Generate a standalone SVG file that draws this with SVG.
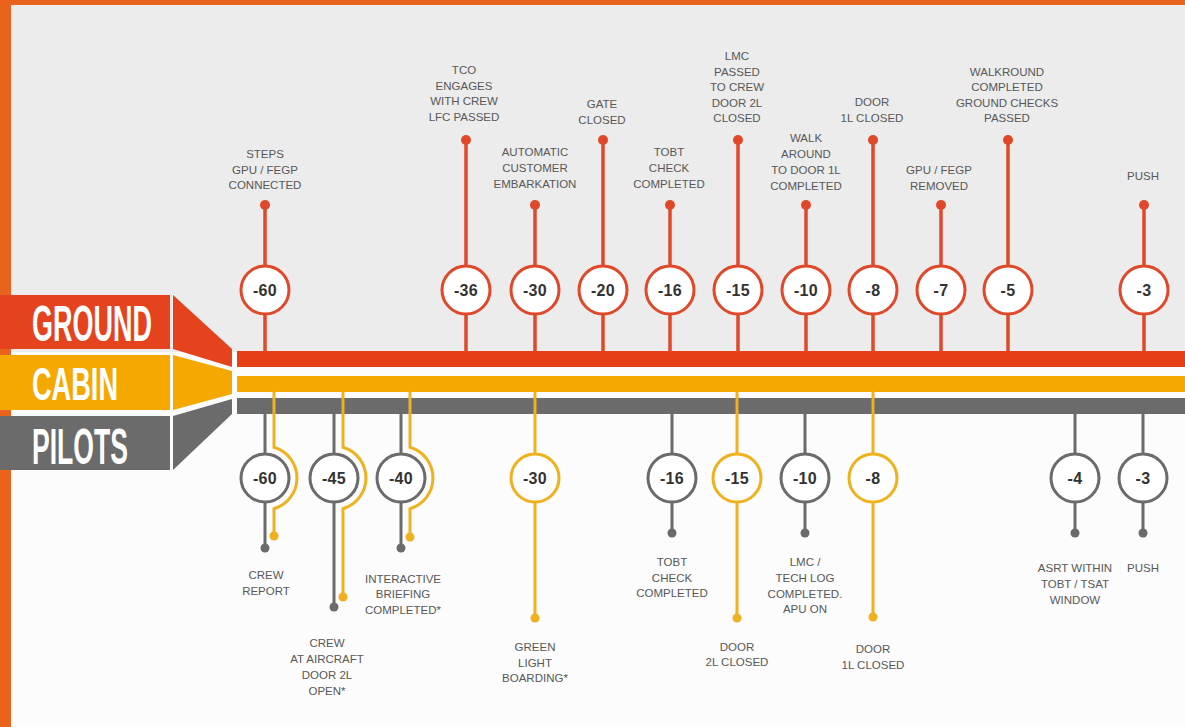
<svg xmlns="http://www.w3.org/2000/svg" width="1185" height="727" viewBox="0 0 1185 727">
<style>
.lbl{font-family:"Liberation Sans",Arial,sans-serif;font-size:11.5px;fill:#585858;text-anchor:middle}
.num{font-family:"Liberation Sans",Arial,sans-serif;font-size:16px;font-weight:bold;fill:#333;text-anchor:middle;letter-spacing:0.3px}
.band{font-family:"Liberation Sans",Arial,sans-serif;font-weight:bold;fill:#fff}
.cr{fill:#fff;stroke:#e0482a;stroke-width:3}
.cg{fill:#fff;stroke:#6b6b6b;stroke-width:3}
.cy{fill:#fff;stroke:#f0b11e;stroke-width:3}
.sr{stroke:#e0482a;stroke-width:3.5;fill:none}
.sg{stroke:#6b6b6b;stroke-width:3;fill:none}
.sy{stroke:#f0b11e;stroke-width:3;fill:none}
.dr{fill:#e0482a}
.dg{fill:#6b6b6b}
.dy{fill:#f0b11e}
</style>
<g id="background">
<rect x="0" y="0" width="1185" height="727" fill="#fcfcfc"/>
<rect x="0" y="0" width="1185" height="352" fill="#ececec"/>
<rect x="0" y="0" width="1185" height="5" fill="#ea631c"/>
<rect x="0" y="0" width="11" height="727" fill="#ea631c"/>
</g>
<g id="lane-ground">
<rect x="0" y="295" width="170" height="54" fill="#e5421e"/>
<polygon points="173,295 232,349 232,367 173,349" fill="#e5421e"/>
<rect x="237" y="351" width="948" height="16" fill="#e63e16"/>
<text class="band" x="32" y="341" font-size="50" textLength="120" lengthAdjust="spacingAndGlyphs">GROUND</text>
</g>
<g id="lane-cabin">
<rect x="0" y="355" width="170" height="55" fill="#f5a800"/>
<polygon points="173,355 232,371 232,394 173,410" fill="#f5a800"/>
<rect x="237" y="376" width="948" height="16" fill="#f5a800"/>
<text class="band" x="32" y="400" font-size="46" textLength="86" lengthAdjust="spacingAndGlyphs">CABIN</text>
</g>
<g id="lane-pilots">
<rect x="0" y="416" width="170" height="54" fill="#6b6b6b"/>
<polygon points="173,416 232,399 232,414 173,470" fill="#6b6b6b"/>
<rect x="237" y="398" width="948" height="16" fill="#6b6b6b"/>
<text class="band" x="32" y="464" font-size="50" textLength="96" lengthAdjust="spacingAndGlyphs">PILOTS</text>
</g>
<g id="connectors">
<line class="sr" x1="265" y1="205" x2="265" y2="352"/>
<line class="sr" x1="466" y1="140" x2="466" y2="352"/>
<line class="sr" x1="535" y1="205" x2="535" y2="352"/>
<line class="sr" x1="603" y1="140" x2="603" y2="352"/>
<line class="sr" x1="670" y1="205" x2="670" y2="352"/>
<line class="sr" x1="738" y1="140" x2="738" y2="352"/>
<line class="sr" x1="806" y1="205" x2="806" y2="352"/>
<line class="sr" x1="873" y1="140" x2="873" y2="352"/>
<line class="sr" x1="941" y1="205" x2="941" y2="352"/>
<line class="sr" x1="1008" y1="140" x2="1008" y2="352"/>
<line class="sr" x1="1144" y1="205" x2="1144" y2="352"/>
<line class="sg" x1="265" y1="413" x2="265" y2="548"/>
<line class="sg" x1="334" y1="413" x2="334" y2="607"/>
<line class="sg" x1="401" y1="413" x2="401" y2="548"/>
<line class="sg" x1="672" y1="413" x2="672" y2="533"/>
<line class="sg" x1="805" y1="413" x2="805" y2="533"/>
<line class="sg" x1="1075" y1="413" x2="1075" y2="533"/>
<line class="sg" x1="1143" y1="413" x2="1143" y2="533"/>
<path class="sy" d="M274,391 V447.3 A32,32 0 0 1 274,508.7 V536"/>
<path class="sy" d="M343,391 V447.3 A32,32 0 0 1 343,508.7 V597"/>
<path class="sy" d="M410,391 V447.3 A32,32 0 0 1 410,508.7 V537"/>
<line class="sy" x1="535" y1="391" x2="535" y2="618"/>
<line class="sy" x1="737" y1="391" x2="737" y2="618"/>
<line class="sy" x1="873" y1="391" x2="873" y2="617"/>
</g>
<g id="g-60">
<circle class="dr" cx="265" cy="205" r="5"/>
<circle class="cr" cx="265" cy="290" r="24"/>
<text class="num" x="265" y="296">-60</text>
<text class="lbl" x="265" y="158">STEPS</text>
<text class="lbl" x="265" y="174">GPU / FEGP</text>
<text class="lbl" x="265" y="189">CONNECTED</text>
</g>
<g id="g-36">
<circle class="dr" cx="466" cy="140" r="5"/>
<circle class="cr" cx="466" cy="290" r="24"/>
<text class="num" x="466" y="296">-36</text>
<text class="lbl" x="464" y="74">TCO</text>
<text class="lbl" x="464" y="89.5">ENGAGES</text>
<text class="lbl" x="464" y="105">WITH CREW</text>
<text class="lbl" x="464" y="120.5">LFC PASSED</text>
</g>
<g id="g-30">
<circle class="dr" cx="535" cy="205" r="5"/>
<circle class="cr" cx="535" cy="290" r="24"/>
<text class="num" x="535" y="296">-30</text>
<text class="lbl" x="535" y="156">AUTOMATIC</text>
<text class="lbl" x="535" y="172">CUSTOMER</text>
<text class="lbl" x="535" y="188">EMBARKATION</text>
</g>
<g id="g-20">
<circle class="dr" cx="603" cy="140" r="5"/>
<circle class="cr" cx="603" cy="290" r="24"/>
<text class="num" x="603" y="296">-20</text>
<text class="lbl" x="602" y="108">GATE</text>
<text class="lbl" x="602" y="124">CLOSED</text>
</g>
<g id="g-16">
<circle class="dr" cx="670" cy="205" r="5"/>
<circle class="cr" cx="670" cy="290" r="24"/>
<text class="num" x="670" y="296">-16</text>
<text class="lbl" x="669" y="156">TOBT</text>
<text class="lbl" x="669" y="172">CHECK</text>
<text class="lbl" x="669" y="188">COMPLETED</text>
</g>
<g id="g-15">
<circle class="dr" cx="738" cy="140" r="5"/>
<circle class="cr" cx="738" cy="290" r="24"/>
<text class="num" x="738" y="296">-15</text>
<text class="lbl" x="737" y="60">LMC</text>
<text class="lbl" x="737" y="76">PASSED</text>
<text class="lbl" x="737" y="91">TO CREW</text>
<text class="lbl" x="737" y="106.5">DOOR 2L</text>
<text class="lbl" x="737" y="122">CLOSED</text>
</g>
<g id="g-10">
<circle class="dr" cx="806" cy="205" r="5"/>
<circle class="cr" cx="806" cy="290" r="24"/>
<text class="num" x="806" y="296">-10</text>
<text class="lbl" x="806" y="142">WALK</text>
<text class="lbl" x="806" y="158">AROUND</text>
<text class="lbl" x="806" y="174">TO DOOR 1L</text>
<text class="lbl" x="806" y="190">COMPLETED</text>
</g>
<g id="g-8">
<circle class="dr" cx="873" cy="140" r="5"/>
<circle class="cr" cx="873" cy="290" r="24"/>
<text class="num" x="873" y="296">-8</text>
<text class="lbl" x="872" y="106">DOOR</text>
<text class="lbl" x="872" y="122">1L CLOSED</text>
</g>
<g id="g-7">
<circle class="dr" cx="941" cy="205" r="5"/>
<circle class="cr" cx="941" cy="290" r="24"/>
<text class="num" x="941" y="296">-7</text>
<text class="lbl" x="939" y="174">GPU / FEGP</text>
<text class="lbl" x="939" y="190">REMOVED</text>
</g>
<g id="g-5">
<circle class="dr" cx="1008" cy="140" r="5"/>
<circle class="cr" cx="1008" cy="290" r="24"/>
<text class="num" x="1008" y="296">-5</text>
<text class="lbl" x="1007" y="76">WALKROUND</text>
<text class="lbl" x="1007" y="91">COMPLETED</text>
<text class="lbl" x="1007" y="106.5">GROUND CHECKS</text>
<text class="lbl" x="1007" y="122">PASSED</text>
</g>
<g id="g-3">
<circle class="dr" cx="1144" cy="205" r="5"/>
<circle class="cr" cx="1144" cy="290" r="24"/>
<text class="num" x="1144" y="296">-3</text>
<text class="lbl" x="1143" y="180">PUSH</text>
</g>
<g id="p-60">
<circle class="dy" cx="274" cy="536" r="4.5"/>
<circle class="dg" cx="265" cy="548" r="4.5"/>
<circle class="cg" cx="265" cy="478" r="24"/>
<text class="num" x="265" y="484">-60</text>
<text class="lbl" x="266" y="579">CREW</text>
<text class="lbl" x="266" y="595">REPORT</text>
</g>
<g id="p-45">
<circle class="dy" cx="343" cy="597" r="4.5"/>
<circle class="dg" cx="334" cy="607" r="4.5"/>
<circle class="cg" cx="334" cy="478" r="24"/>
<text class="num" x="334" y="484">-45</text>
<text class="lbl" x="327" y="647">CREW</text>
<text class="lbl" x="327" y="663">AT AIRCRAFT</text>
<text class="lbl" x="327" y="679">DOOR 2L</text>
<text class="lbl" x="327" y="695">OPEN*</text>
</g>
<g id="p-40">
<circle class="dy" cx="410" cy="537" r="4.5"/>
<circle class="dg" cx="401" cy="548" r="4.5"/>
<circle class="cg" cx="401" cy="478" r="24"/>
<text class="num" x="401" y="484">-40</text>
<text class="lbl" x="403" y="583">INTERACTIVE</text>
<text class="lbl" x="403" y="598">BRIEFING</text>
<text class="lbl" x="403" y="614">COMPLETED*</text>
</g>
<g id="c-30">
<circle class="dy" cx="535" cy="618" r="4.5"/>
<circle class="cy" cx="535" cy="478" r="24"/>
<text class="num" x="535" y="484">-30</text>
<text class="lbl" x="535" y="651">GREEN</text>
<text class="lbl" x="535" y="667">LIGHT</text>
<text class="lbl" x="535" y="682">BOARDING*</text>
</g>
<g id="p-16">
<circle class="dg" cx="672" cy="533" r="4.5"/>
<circle class="cg" cx="672" cy="478" r="24"/>
<text class="num" x="672" y="484">-16</text>
<text class="lbl" x="672" y="566">TOBT</text>
<text class="lbl" x="672" y="582">CHECK</text>
<text class="lbl" x="672" y="597">COMPLETED</text>
</g>
<g id="c-15">
<circle class="dy" cx="737" cy="618" r="4.5"/>
<circle class="cy" cx="737" cy="478" r="24"/>
<text class="num" x="737" y="484">-15</text>
<text class="lbl" x="737" y="651">DOOR</text>
<text class="lbl" x="737" y="666">2L CLOSED</text>
</g>
<g id="p-10">
<circle class="dg" cx="805" cy="533" r="4.5"/>
<circle class="cg" cx="805" cy="478" r="24"/>
<text class="num" x="805" y="484">-10</text>
<text class="lbl" x="805" y="566">LMC /</text>
<text class="lbl" x="805" y="582">TECH LOG</text>
<text class="lbl" x="805" y="598">COMPLETED.</text>
<text class="lbl" x="805" y="613">APU ON</text>
</g>
<g id="c-8">
<circle class="dy" cx="873" cy="617" r="4.5"/>
<circle class="cy" cx="873" cy="478" r="24"/>
<text class="num" x="873" y="484">-8</text>
<text class="lbl" x="873" y="653">DOOR</text>
<text class="lbl" x="873" y="669">1L CLOSED</text>
</g>
<g id="p-4">
<circle class="dg" cx="1075" cy="533" r="4.5"/>
<circle class="cg" cx="1075" cy="478" r="24"/>
<text class="num" x="1075" y="484">-4</text>
<text class="lbl" x="1075" y="572">ASRT WITHIN</text>
<text class="lbl" x="1075" y="588">TOBT / TSAT</text>
<text class="lbl" x="1075" y="604">WINDOW</text>
</g>
<g id="p-3">
<circle class="dg" cx="1143" cy="533" r="4.5"/>
<circle class="cg" cx="1143" cy="478" r="24"/>
<text class="num" x="1143" y="484">-3</text>
<text class="lbl" x="1143" y="572">PUSH</text>
</g>
</svg>
